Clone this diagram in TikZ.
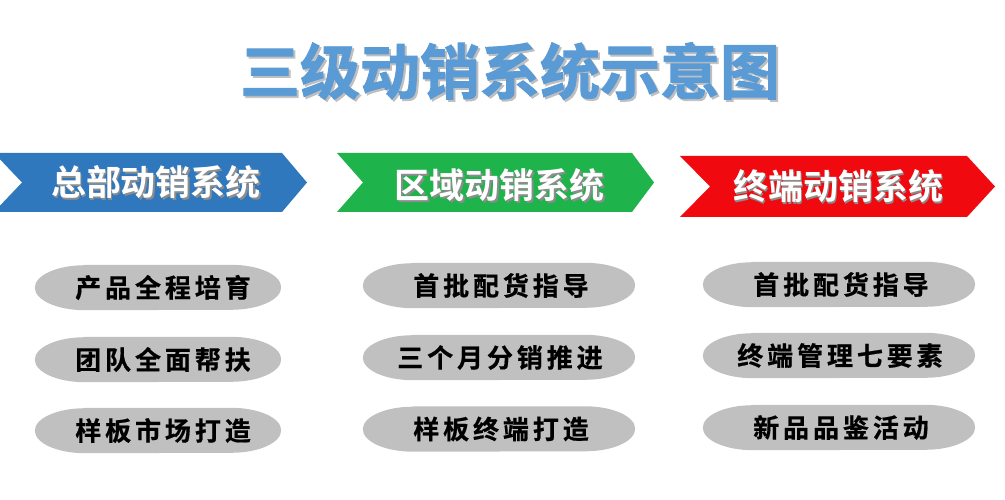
\documentclass[tikz,border=0pt]{standalone}
\usepackage{fontspec}
\newfontfamily\cjk{Noto Sans CJK SC}[BoldFont={Noto Sans CJK SC Bold}]
\newfontfamily\cjkheavy{Noto Sans CJK SC Bold}[FakeBold=1.5]
\newfontfamily\cjksp{Noto Sans CJK SC Bold}[LetterSpace=15,FakeBold=0.6]
\definecolor{titleblue}{HTML}{5B9BD5}
\definecolor{hqblue}{HTML}{2F78BD}
\definecolor{rggreen}{HTML}{1FB34C}
\definecolor{tmred}{HTML}{F00A0F}
\definecolor{pillgray}{HTML}{C0C0C0}
\tikzset{
  pillbox/.style={rectangle, inner sep=0pt, minimum height=45pt},
  pilltext/.style={inner sep=0pt, font=\cjksp\fontsize{26}{26}\selectfont, text=black},
  headtext/.style={font=\cjk\bfseries\fontsize{35}{35}\selectfont, text=white, inner sep=0pt},
  headshadow/.style={font=\cjk\bfseries\fontsize{35}{35}\selectfont, text=black!45, inner sep=0pt},
}
\begin{document}
\begin{tikzpicture}[x=1pt,y=-1pt]
\useasboundingbox (0,0) rectangle (1005,500);
% title
\node[font=\cjkheavy\fontsize{60}{60}\selectfont, text=black!25, inner sep=0pt] (titleshadow) at (512,73) {三级动销系统示意图};
\node[font=\cjkheavy\fontsize{60}{60}\selectfont, text=titleblue, inner sep=0pt] (title) at (510,71) {三级动销系统示意图};
% chevrons
\fill[hqblue] (-6,153) -- (282,153) -- (307,182.5) -- (282,212) -- (-6,212) -- (22,182.5) -- cycle;
\fill[rggreen] (337,153) -- (632,153) -- (654,182.5) -- (632,212) -- (337,212) -- (363,182.5) -- cycle;
\fill[tmred] (680,156) -- (967,156) -- (995,186.5) -- (967,217) -- (680,217) -- (710,186.5) -- cycle;
\node[headshadow] (hqs) at (157.5,184) {总部动销系统};
\node[headtext] (hq) at (156,182.5) {总部动销系统};
\node[headshadow] (rgs) at (501,187) {区域动销系统};
\node[headtext] (rg) at (499.5,185.5) {区域动销系统};
\node[headshadow] (tms) at (839.5,188) {终端动销系统};
\node[headtext] (tm) at (838,186.5) {终端动销系统};
% pills (invisible boxes, filled below)
\node[pillbox, minimum width=246pt] (a1) at (158,287.5) {};
\node[pillbox, minimum width=246pt] (a2) at (158,359.5) {};
\node[pillbox, minimum width=246pt] (a3) at (158,430.5) {};
\node[pillbox, minimum width=272pt] (b1) at (499,285.5) {};
\node[pillbox, minimum width=272pt] (b2) at (499,357.5) {};
\node[pillbox, minimum width=272pt] (b3) at (499,429) {};
\node[pillbox, minimum width=272pt] (c1) at (839,284.5) {};
\node[pillbox, minimum width=272pt] (c2) at (839,355.5) {};
\node[pillbox, minimum width=272pt] (c3) at (839,427.5) {};
\foreach \p in {a1,a2,a3,b1,b2,b3,c1,c2,c3}{
  \fill[pillgray] ([xshift=50pt]\p.north west) -- ([xshift=-50pt]\p.north east)
    arc[start angle=90, end angle=-90, x radius=50pt, y radius=22.5pt]
    -- ([xshift=50pt]\p.south west)
    arc[start angle=270, end angle=90, x radius=50pt, y radius=22.5pt] -- cycle;
}
\node[pilltext] (a1t) at ([xshift=5pt]a1.center) {产品全程培育};
\node[pilltext] (a2t) at ([xshift=5pt]a2.center) {团队全面帮扶};
\node[pilltext] (a3t) at ([xshift=5pt]a3.center) {样板市场打造};
\node[pilltext] (b1t) at ([xshift=2pt]b1.center) {首批配货指导};
\node[pilltext] (b2t) at ([xshift=1pt]b2.center) {三个月分销推进};
\node[pilltext] (b3t) at ([xshift=2pt]b3.center) {样板终端打造};
\node[pilltext] (c1t) at ([xshift=2pt]c1.center) {首批配货指导};
\node[pilltext] (c2t) at ([xshift=1pt]c2.center) {终端管理七要素};
\node[pilltext] (c3t) at ([xshift=2pt]c3.center) {新品品鉴活动};
\end{tikzpicture}
\end{document}
